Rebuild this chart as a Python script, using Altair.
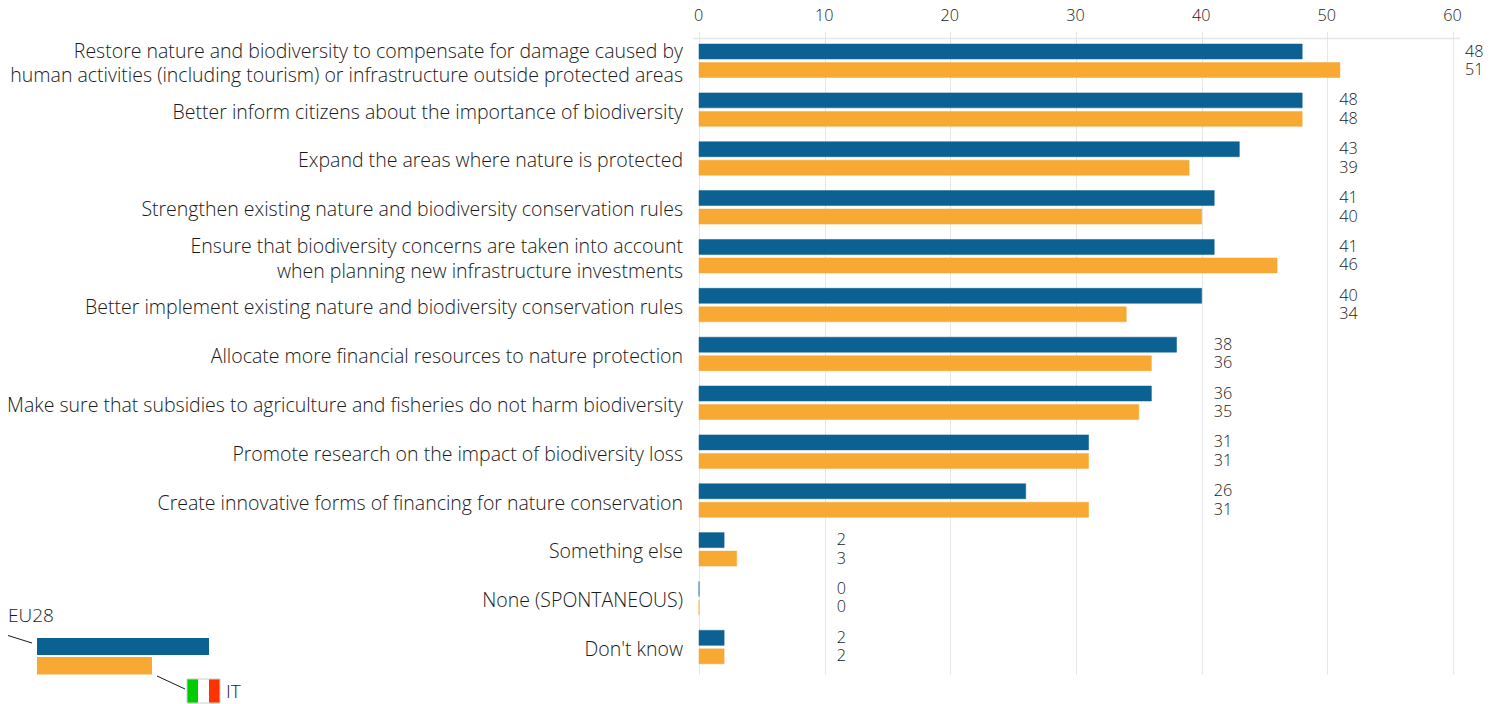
import altair as alt
import pandas as pd

categories = [
    "Restore nature and biodiversity to compensate for damage caused by|human activities (including tourism) or infrastructure outside protected areas",
    "Better inform citizens about the importance of biodiversity",
    "Expand the areas where nature is protected",
    "Strengthen existing nature and biodiversity conservation rules",
    "Ensure that biodiversity concerns are taken into account|when planning new infrastructure investments",
    "Better implement existing nature and biodiversity conservation rules",
    "Allocate more financial resources to nature protection",
    "Make sure that subsidies to agriculture and fisheries do not harm biodiversity",
    "Promote research on the impact of biodiversity loss",
    "Create innovative forms of financing for nature conservation",
    "Something else",
    "None (SPONTANEOUS)",
    "Don't know",
]
eu28 = [48, 48, 43, 41, 41, 40, 38, 36, 31, 26, 2, 0, 2]
it = [51, 48, 39, 40, 46, 34, 36, 35, 31, 31, 3, 0, 2]
label_ticks = [60, 50, 50, 50, 50, 50, 40, 40, 40, 40, 10, 10, 10]
tick_values = [0, 10, 20, 30, 40, 50, 60]

BLUE, ORANGE, INK, GRID = "#0b6292", "#f7a933", "#1a1a1a", "#e6e6e6"
FONT = "Open Sans"
FS = 16.2
CAT_FS = 19.5
WEIGHT = 300

rows = []
for c, a, b, t in zip(categories, eu28, it, label_ticks):
    rows.append({"cat": c, "series": "EU28", "value": a, "tick": t})
    rows.append({"cat": c, "series": "IT", "value": b, "tick": t})
df = pd.DataFrame(rows)

y = alt.Y("cat:N", sort=categories, title=None,
          scale=alt.Scale(paddingInner=0, paddingOuter=0.075, align=0.66),
          axis=None)
yoff = alt.YOffset("series:N", sort=["EU28", "IT"],
                   scale=alt.Scale(paddingInner=0.19, paddingOuter=0.416))
x_scale = alt.Scale(domain=[0, 60], nice=False)
color_scale = alt.Scale(domain=["EU28", "IT"], range=[BLUE, ORANGE])

bars = alt.Chart(df).mark_bar(strokeWidth=1, strokeOpacity=0.5).encode(
    x=alt.X("value:Q", scale=x_scale, title=None,
            axis=alt.Axis(orient="top", values=tick_values, domain=False, ticks=False, labelPadding=8,
                          labelFlush=False, labelOffset=-1, grid=True, gridColor=GRID, gridWidth=1,
                          labelFont=FONT, labelFontSize=FS, labelFontWeight=WEIGHT, labelColor=INK,
                          format="d")),
    y=y, yOffset=yoff,
    fill=alt.Fill("series:N", scale=color_scale, legend=None),
    stroke=alt.Stroke("series:N", scale=color_scale, legend=None),
)
labels = alt.Chart(df).mark_text(align="left", baseline="middle", dx=12, font=FONT, fontSize=FS,
                                 fontWeight=WEIGHT, color=INK).encode(
    x=alt.X("tick:Q", scale=x_scale), y=y, yOffset=yoff, text="value:Q")

def cat_layer(names, dy):
    return alt.Chart(pd.DataFrame({"cat": names})).mark_text(
        align="right", baseline="middle", dy=dy, lineBreak="|", lineHeight=24.5, font=FONT,
        fontSize=CAT_FS, fontWeight=WEIGHT, color=INK).encode(x=alt.value(-16), y=y, text="cat:N")

cat_single = cat_layer([c for c in categories if "|" not in c], 3)
cat_double = cat_layer([c for c in categories if "|" in c], -9)

one = alt.Chart(pd.DataFrame({"k": [0]}))

def rect(x1, x2, y1, y2, fill):
    return one.mark_rect(fill=fill).encode(x=alt.value(x1), x2=alt.value(x2), y=alt.value(y1), y2=alt.value(y2))

def rule(x1, x2, y1, y2, color, w=1):
    return one.mark_rule(color=color, strokeWidth=w).encode(x=alt.value(x1), x2=alt.value(x2), y=alt.value(y1), y2=alt.value(y2))

def text(s, x0, y0):
    return one.mark_text(text=s, align="left", baseline="middle", font=FONT, fontSize=19,
                         fontWeight=WEIGHT, color=INK).encode(x=alt.value(x0), y=alt.value(y0))

OX, OY = 699, 31.5  # page position of the plot origin
def px(v): return v - OX
def py(v): return v - OY

layers = [
    bars, labels, cat_single, cat_double,
    rule(px(693), px(1460), py(38.5), py(38.5), GRID, 1.5),
    text("EU28", px(8), py(616)),
    rule(px(0), px(32), py(633), py(643), INK),
    rect(px(37), px(209), py(638), py(655), BLUE),
    rect(px(37), px(152), py(657), py(674.5), ORANGE),
    rule(px(157), px(185), py(676), py(689), INK),
    rect(px(187), px(198), py(679), py(703), "#00cc00"),
    rect(px(198), px(209), py(679), py(703), "#ffffff"),
    rect(px(209), px(220), py(679), py(703), "#ff3300"),
    rule(px(187), px(220), py(679), py(679), "#cccccc"),
    rule(px(187), px(220), py(703), py(703), "#cccccc"),
    rule(px(187), px(187), py(679), py(703), "#cccccc"),
    rule(px(220), px(220), py(679), py(703), "#cccccc"),
    text("IT", px(226), py(692)),
]

chart = alt.layer(*layers).resolve_scale(x="shared", y="shared").properties(
    width=754, height=642.5,
    padding={"left": OX - 8, "top": OY - 8, "right": 38, "bottom": 30},
    autosize=alt.AutoSizeParams(type="none"),
).configure_view(stroke=None)

chart.save("out.html", embed_options={"renderer": "svg", "actions": False})
